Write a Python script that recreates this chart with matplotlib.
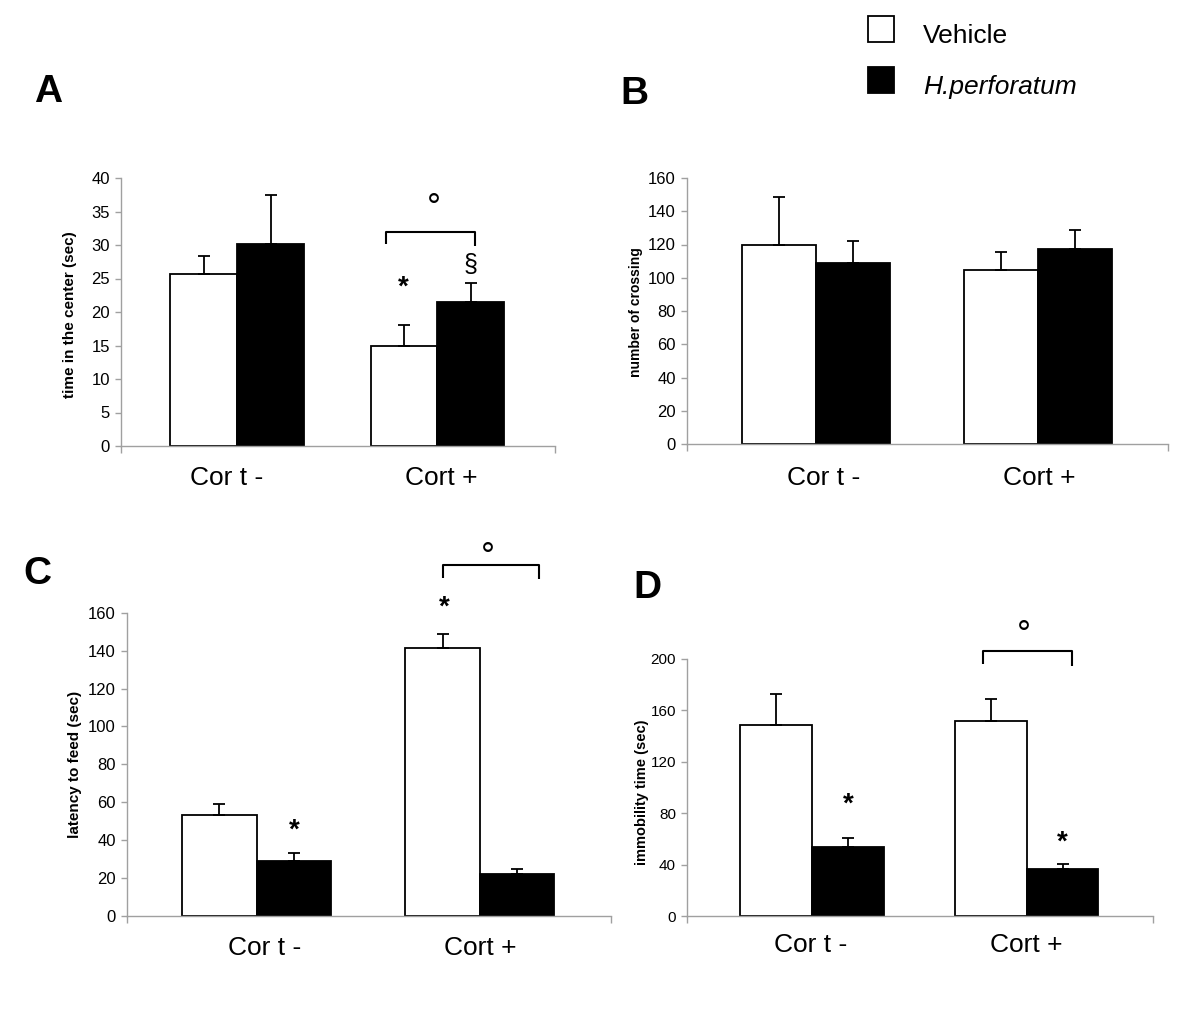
import matplotlib
matplotlib.use('Agg')
import matplotlib.pyplot as plt
from matplotlib.patches import Rectangle

plt.rcParams['font.family'] = ['Liberation Sans', 'DejaVu Sans']

W, H = 1200, 1014

categories = ['Cor t -', 'Cort +']
groups     = ['Vehicle', 'H.perforatum']

# A : open field, time in the center
a_vehicle     = [25.6, 14.9]
a_vehicle_err = [2.8, 3.1]
a_hyper       = [30.2, 21.5]
a_hyper_err   = [7.3, 2.8]

# B : open field, crossings
b_vehicle     = [119.7, 104.5]
b_vehicle_err = [28.7, 11.2]
b_hyper       = [108.7, 117.1]
b_hyper_err   = [13.4, 11.4]

# C : novelty suppressed feeding
c_vehicle     = [53.3, 141.4]
c_vehicle_err = [5.8, 7.5]
c_hyper       = [29.0, 22.0]
c_hyper_err   = [4.1, 2.6]

# D : forced swim, immobility
d_vehicle     = [149.0, 151.8]
d_vehicle_err = [24.0, 17.4]
d_hyper       = [53.9, 36.5]
d_hyper_err   = [7.0, 3.9]

# significance marks: (symbol, x, y) in data units, brackets: (x0, x1, y_left, y_top, y_right)
a_marks    = [('*', 0.83, 24.5), ('\u00a7', 1.167, 27.0), ('\u00b0', 0.983, 37.0)]
a_brackets = [(0.743, 1.188, 30.15, 31.9, 29.9)]
c_marks    = [('*', 0.169, 47.8), ('*', 0.841, 165.8), ('\u00b0', 1.034, 194.9)]
c_brackets = [(0.8365, 1.2635, 178.5, 185.4, 177.8)]
d_marks    = [('*', 0.168, 90.7), ('*', 1.165, 61.6), ('\u00b0', 0.986, 226.7)]
d_brackets = [(0.797, 1.211, 196.1, 206.2, 194.9)]

fig = plt.figure(figsize=(W / 100, H / 100), dpi=100)

XLIM  = (-0.581, 1.588)
BAR_W = 0.334
GREY  = '#a0a0a0'

# font size, weight and glyph-centre height (in em) for the mark symbols
MARK_STYLE = {'*': (20, 'bold', 0.45), '\u00a7': (18, 'normal', 0.27), '\u00b0': (25, 'normal', 0.58)}


def px_axes(left, right, top, bottom):
    return fig.add_axes([left / W, 1 - bottom / H, (right - left) / W, (bottom - top) / H])


def panel(box, vehicle, vehicle_err, hyper, hyper_err, ymax, ystep, ylabel,
          ylabel_fs, ylabel_px, cat_x, cat_pad, tick_fs=12, marks=(), brackets=()):
    left, right, top, bottom = box
    ax = px_axes(left, right, top, bottom)
    x = range(len(categories))
    xv = [i - BAR_W / 2 for i in x]
    xh = [i + BAR_W / 2 for i in x]
    ax.bar(xv, vehicle, BAR_W, color='white', edgecolor='black', linewidth=1.3, zorder=2)
    ax.bar(xh, hyper, BAR_W, color='black', edgecolor='black', linewidth=1.3, zorder=2)
    ax.errorbar(xv, vehicle, yerr=[[0] * len(vehicle), vehicle_err], fmt='none',
                ecolor='black', elinewidth=1.3, capsize=4.5, capthick=1.3, zorder=3)
    ax.errorbar(xh, hyper, yerr=[[0] * len(hyper), hyper_err], fmt='none',
                ecolor='black', elinewidth=1.3, capsize=4.5, capthick=1.3, zorder=3)

    ax.set_xlim(*XLIM)
    ax.set_ylim(0, ymax)
    ax.set_yticks(range(0, ymax + 1, ystep))
    for s in ('top', 'right'):
        ax.spines[s].set_visible(False)
    for s in ('left', 'bottom'):
        ax.spines[s].set_color(GREY)
        ax.spines[s].set_linewidth(1.0)
    ax.tick_params(axis='y', direction='out', length=4, width=1, color=GREY,
                   labelsize=tick_fs, pad=4)
    ax.set_xticks(cat_x)
    ax.set_xticklabels(categories, fontsize=19)
    ax.tick_params(axis='x', which='major', length=0, pad=cat_pad)
    ax.set_xticks(list(XLIM), minor=True)
    ax.tick_params(axis='x', which='minor', direction='out', length=5, width=1, color=GREY)

    ax.set_ylabel(ylabel, fontsize=ylabel_fs, fontweight='bold', va='center')
    ax.yaxis.set_label_coords((ylabel_px[0] - left) / (right - left),
                              (bottom - ylabel_px[1]) / (bottom - top))

    for sym, mx, my in marks:
        fs, fw, mid = MARK_STYLE[sym]
        ax.annotate(sym, xy=(mx, my), xytext=(0, -mid * fs), textcoords='offset points',
                    fontsize=fs, fontweight=fw, ha='center', va='baseline',
                    annotation_clip=False)
    for x0, x1, yl, yt, yr in brackets:
        ax.plot([x0, x0, x1, x1], [yl, yt, yt, yr], color='black', lw=1.5,
                clip_on=False, solid_capstyle='butt')
    return ax


panel((121, 555, 178, 446), a_vehicle, a_vehicle_err, a_hyper, a_hyper_err, 40, 5,
      'time in the center (sec)', 11, (70, 315), [-0.052, 1.022], 14.5,
      marks=a_marks, brackets=a_brackets)
panel((687, 1168, 178, 444), b_vehicle, b_vehicle_err, b_hyper, b_hyper_err, 160, 20,
      'number of crossing', 10, (636, 312), [0.035, 1.007], 16)
panel((127, 611, 613, 915.5), c_vehicle, c_vehicle_err, c_hyper, c_hyper_err, 160, 20,
      'latency to feed (sec)', 11, (75.5, 764), [0.037, 1.002], 15,
      marks=c_marks, brackets=c_brackets)
panel((687, 1153, 659, 916), d_vehicle, d_vehicle_err, d_hyper, d_hyper_err, 200, 40,
      'immobility time (sec)', 10.5, (642, 792), [-0.006, 0.997], 12.5, tick_fs=11,
      marks=d_marks, brackets=d_brackets)

# panel letters
for letter, lx, ly in [('A', 34, 102), ('B', 620, 104), ('C', 23, 584), ('D', 633, 598)]:
    fig.text(lx / W, 1 - ly / H, letter, fontsize=28, fontweight='bold', ha='left', va='baseline')

# legend
for i, (name, face) in enumerate(zip(groups, ['white', 'black'])):
    top = 16 + i * 51
    fig.add_artist(Rectangle((868 / W, 1 - (top + 26) / H), 26 / W, 26 / H,
                             transform=fig.transFigure, facecolor=face,
                             edgecolor='black', linewidth=1.3))
    fig.text(923 / W, 1 - (top + 27) / H, name, fontsize=19, ha='left', va='baseline',
             style='italic' if i == 1 else 'normal')

fig.savefig('out.png', dpi=100)
